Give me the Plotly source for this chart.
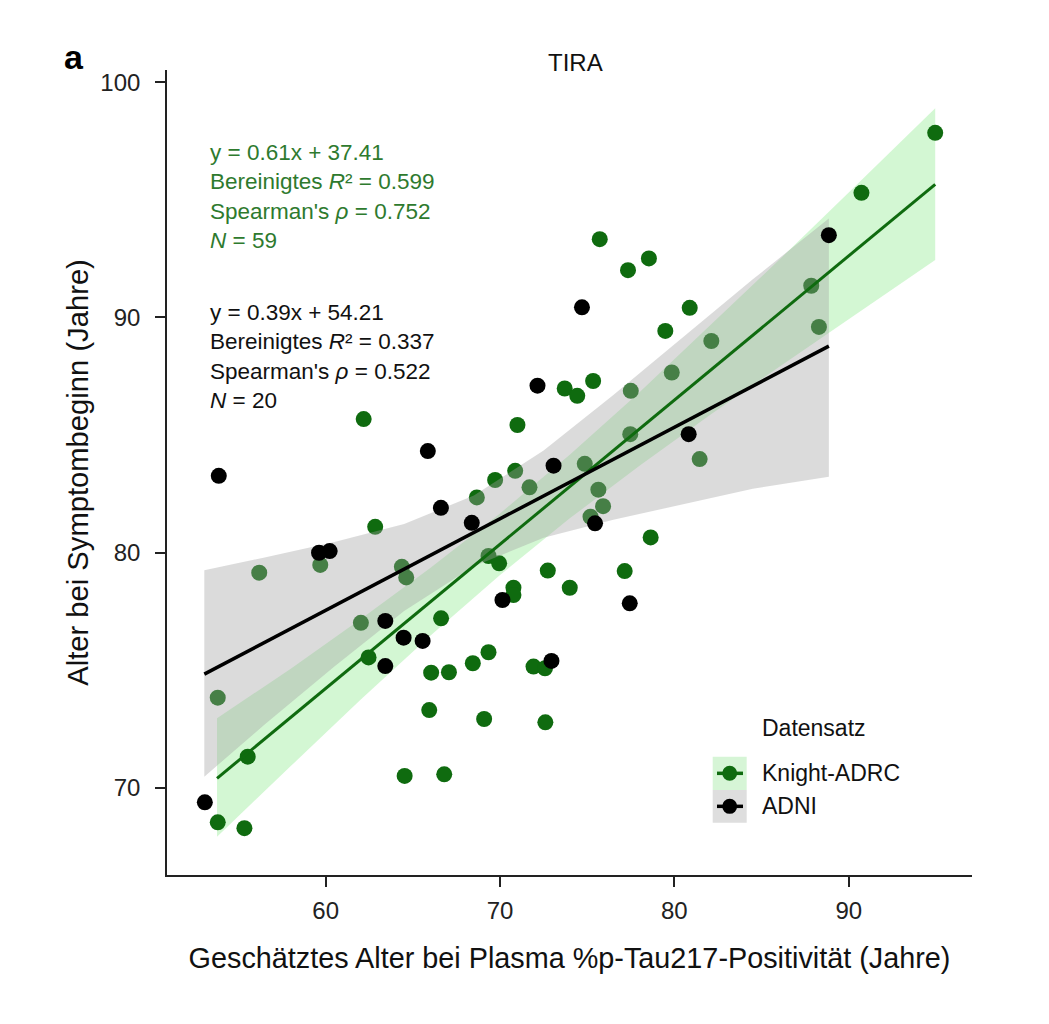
import plotly.graph_objects as go

# Knight-ADRC points (x: estimated age at plasma %p-tau217 positivity, y: age at symptom onset)
knight_x = [62.18, 71.00, 70.87, 69.72, 71.69, 68.67, 62.84, 59.69, 56.19, 64.37,
            64.62, 69.34, 69.95, 72.74, 74.00, 70.77, 70.77, 66.62, 62.02, 62.46,
            69.34, 68.44, 66.05, 67.07, 71.92, 72.58, 53.81, 65.94, 69.09, 72.60,
            55.53, 64.53, 66.80, 53.81, 55.34, 73.71, 74.43, 75.34, 77.50, 79.85,
            82.12, 74.86, 77.47, 81.45, 75.64, 75.91, 75.19, 78.64, 77.15, 94.96,
            90.73, 75.72, 77.34, 78.54, 80.88, 79.48, 87.85, 88.29]
knight_y = [85.68, 85.43, 83.48, 83.09, 82.78, 82.35, 81.10, 79.48, 79.15, 79.40,
            78.95, 79.86, 79.55, 79.24, 78.51, 78.51, 78.20, 77.21, 77.02, 75.55,
            75.77, 75.30, 74.90, 74.92, 75.16, 75.09, 73.84, 73.31, 72.93, 72.79,
            71.33, 70.51, 70.58, 68.54, 68.29, 86.98, 86.67, 87.30, 86.88, 87.66,
            89.00, 83.78, 85.04, 83.98, 82.68, 81.98, 81.53, 80.65, 79.22, 97.85,
            95.30, 93.33, 92.01, 92.51, 90.41, 89.43, 91.35, 89.60]

# ADNI points
adni_x = [65.86, 53.87, 73.07, 66.61, 68.38, 59.62, 60.23, 70.14, 63.42, 64.47,
          65.56, 63.42, 72.95, 53.07, 72.15, 80.82, 75.45, 77.44, 88.86, 74.70]
adni_y = [84.32, 83.27, 83.70, 81.91, 81.27, 80.00, 80.07, 77.99, 77.10, 76.39,
          76.25, 75.18, 75.40, 69.39, 87.10, 85.04, 81.25, 77.85, 93.50, 90.43]

# fitted lines (end points) and confidence bands
knight_fit_x = [53.77, 94.96]
knight_fit_y = [70.41, 95.66]
adni_fit_x = [53.04, 88.86]
adni_fit_y = [74.84, 88.78]

knight_band_x = [53.77, 58, 62, 66, 70, 74, 78, 82, 86, 90, 94.96]
knight_band_hi = [72.96, 75.07, 77.17, 79.35, 81.67, 84.16, 86.82, 89.61, 92.44, 95.31, 98.89]
knight_band_lo = [67.93, 70.93, 73.75, 76.47, 79.05, 81.46, 83.70, 85.83, 87.90, 89.93, 92.44]

adni_band_x = [53.04, 56.5, 60.5, 64.5, 68.5, 72.5, 76.5, 80.5, 84.5, 88.86]
adni_band_hi = [79.26, 79.80, 80.46, 81.22, 82.43, 84.34, 86.70, 89.16, 91.62, 94.21]
adni_band_lo = [70.48, 72.70, 75.16, 77.52, 79.43, 80.64, 81.40, 82.06, 82.72, 83.23]

x_ticks = [60, 70, 80, 90]
y_ticks = [70, 80, 90, 100]

knight_stats = ["y = 0.61x + 37.41", "Bereinigtes <i>R</i>² = 0.599",
                "Spearman's <i>ρ</i> = 0.752", "<i>N</i> = 59"]
adni_stats = ["y = 0.39x + 54.21", "Bereinigtes <i>R</i>² = 0.337",
              "Spearman's <i>ρ</i> = 0.522", "<i>N</i> = 20"]

GREEN = "#0F6B0F"
GREEN_TXT = "#2E7A2E"
GREEN_BAND = "rgba(150,235,150,0.42)"
GREY_BAND = "rgba(160,160,160,0.38)"
FONT = "Liberation Sans, Arial, sans-serif"

fig = go.Figure()

fig.add_trace(go.Scatter(
    x=knight_band_x + knight_band_x[::-1],
    y=knight_band_hi + knight_band_lo[::-1],
    fill="toself", fillcolor=GREEN_BAND, line=dict(width=0),
    mode="lines", hoverinfo="skip", showlegend=False,
))
fig.add_trace(go.Scatter(
    x=knight_x, y=knight_y, mode="markers", name="Knight-ADRC",
    marker=dict(color=GREEN, size=16, line=dict(width=0)), showlegend=False,
))
fig.add_trace(go.Scatter(
    x=adni_band_x + adni_band_x[::-1],
    y=adni_band_hi + adni_band_lo[::-1],
    fill="toself", fillcolor=GREY_BAND, line=dict(width=0),
    mode="lines", hoverinfo="skip", showlegend=False,
))
fig.add_trace(go.Scatter(
    x=adni_x, y=adni_y, mode="markers", name="ADNI",
    marker=dict(color="black", size=16, line=dict(width=0)), showlegend=False,
))
fig.add_trace(go.Scatter(
    x=knight_fit_x, y=knight_fit_y, mode="lines",
    line=dict(color=GREEN, width=3), hoverinfo="skip", showlegend=False,
))
fig.add_trace(go.Scatter(
    x=adni_fit_x, y=adni_fit_y, mode="lines",
    line=dict(color="black", width=3.5), hoverinfo="skip", showlegend=False,
))

# stats text blocks
fig.add_annotation(x=0.051, y=0.916, xref="paper", yref="paper", xanchor="left", yanchor="top",
                   text="<br>".join(knight_stats), align="left", showarrow=False,
                   font=dict(size=22.5, color=GREEN_TXT, family=FONT))
fig.add_annotation(x=0.051, y=0.717, xref="paper", yref="paper", xanchor="left", yanchor="top",
                   text="<br>".join(adni_stats), align="left", showarrow=False,
                   font=dict(size=22.5, color="#111111", family=FONT))

# title and panel letter
fig.add_annotation(x=0.508, y=1.009, xref="paper", yref="paper", yanchor="middle",
                   text="TIRA", showarrow=False, font=dict(size=24, color="#111111", family=FONT))
fig.add_annotation(x=-0.131, y=1.016, xref="paper", yref="paper", yanchor="middle",
                   text="<b>a</b>", showarrow=False, font=dict(size=34, color="#000000", family=FONT))

# hand-drawn legend (key boxes with line + dot)
legend_items = [("Knight-ADRC", GREEN, "rgb(214,245,214)", 0.1056, 0.1470),
                ("ADNI", "black", "rgb(222,222,222)", 0.0650, 0.1056)]
for label, col, bg, y0, y1 in legend_items:
    yc = (y0 + y1) / 2
    fig.add_shape(type="rect", xref="paper", yref="paper", x0=0.6779, x1=0.7201, y0=y0, y1=y1,
                  fillcolor=bg, line=dict(width=0), layer="above")
    fig.add_shape(type="line", xref="paper", yref="paper", x0=0.6832, x1=0.7155, y0=yc, y1=yc,
                  line=dict(color=col, width=3.5), layer="above")
    fig.add_shape(type="circle", xref="paper", yref="paper", x0=0.6897, x1=0.7083,
                  y0=yc - 0.0093, y1=yc + 0.0093, fillcolor=col, line=dict(width=0), layer="above")
    fig.add_annotation(x=0.7366, y=yc, xref="paper", yref="paper", xanchor="left", yanchor="middle",
                       text=label, showarrow=False, font=dict(size=23, color="#111111", family=FONT))
fig.add_annotation(x=0.7366, y=0.1826, xref="paper", yref="paper", xanchor="left", yanchor="middle",
                   text="Datensatz", showarrow=False, font=dict(size=23, color="#111111", family=FONT))

axis_common = dict(showgrid=False, zeroline=False, showline=True, linecolor="#222222", linewidth=1.6,
                   ticks="outside", ticklen=10, tickwidth=1.6, tickcolor="#222222",
                   tickfont=dict(size=24, color="#222222", family=FONT))

fig.update_xaxes(range=[50.9, 97.07], tickvals=x_ticks, ticktext=[str(v) for v in x_ticks],
                 ticklabelstandoff=3,
                 title=dict(text="Geschätztes Alter bei Plasma %p-Tau217-Positivität (Jahre)",
                            font=dict(size=28.8, color="#111111", family=FONT), standoff=25),
                 **axis_common)
fig.update_yaxes(range=[66.3, 100.52], tickvals=y_ticks, ticktext=[str(v) for v in y_ticks],
                 ticklabelstandoff=10,
                 title=dict(text="Alter bei Symptombeginn (Jahre)",
                            font=dict(size=29.2, color="#111111", family=FONT), standoff=3),
                 **axis_common)

fig.update_layout(
    width=1049, height=1024,
    margin=dict(l=159, r=85, t=62, b=157),
    plot_bgcolor="white", paper_bgcolor="white",
    font=dict(family=FONT, color="#111111"),
    showlegend=False,
)

fig.write_html("out.html")
